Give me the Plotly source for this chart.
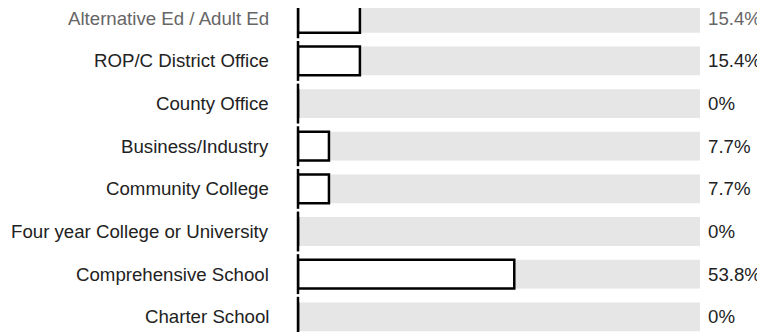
import plotly.graph_objects as go

categories = [
    "Alternative Ed / Adult Ed",
    "ROP/C District Office",
    "County Office",
    "Business/Industry",
    "Community College",
    "Four year College or University",
    "Comprehensive School",
    "Charter School",
]
values = [15.4, 15.4, 0, 7.7, 7.7, 0, 53.8, 0]
full_scale = [100] * len(categories)
value_labels = [f"{v:g}%" for v in values]

FONT = "Arial, Liberation Sans, sans-serif"
text_colors = ["#666666"] + ["#222222"] * (len(categories) - 1)

fig = go.Figure()

# grey background track
fig.add_trace(go.Bar(
    y=categories, x=full_scale, orientation="h",
    marker=dict(color="#e6e6e6", line=dict(width=0)),
    width=0.675, cliponaxis=False, hoverinfo="skip", showlegend=False,
))

# value bars
fig.add_trace(go.Bar(
    y=categories, x=values, orientation="h",
    marker=dict(color="white", line=dict(color="black", width=2.5)),
    width=0.675, cliponaxis=False, showlegend=False,
))

# baseline tick for each row (visible where value is zero)
fig.add_trace(go.Scatter(
    y=categories, x=[0] * len(categories), mode="markers",
    marker=dict(symbol="line-ns", size=28.5,
                line=dict(color="black", width=2.5)),
    cliponaxis=False, hoverinfo="skip", showlegend=False,
))

annotations = []
for cat, lab, col in zip(categories, value_labels, text_colors):
    annotations.append(dict(
        xref="paper", yref="y", x=0, y=cat, text=cat,
        xanchor="right", yanchor="middle", xshift=-27, showarrow=False,
        font=dict(family=FONT, size=18.67, color=col),
    ))
    annotations.append(dict(
        xref="x", yref="y", x=100, y=cat, text=lab,
        xanchor="left", yanchor="middle", xshift=5.5, showarrow=False,
        font=dict(family=FONT, size=18.67, color=col),
    ))

fig.update_layout(
    width=757, height=324,
    margin=dict(l=290, r=65, t=0, b=0),
    barmode="overlay",
    plot_bgcolor="white", paper_bgcolor="white",
    xaxis=dict(range=[0, 100], visible=False, fixedrange=True),
    yaxis=dict(type="category", categoryorder="array", categoryarray=categories,
               range=[7.357, -0.2416], showticklabels=False, showgrid=False,
               zeroline=False, showline=False, fixedrange=True),
    annotations=annotations,
    font=dict(family=FONT),
)

fig.write_html("out.html")
